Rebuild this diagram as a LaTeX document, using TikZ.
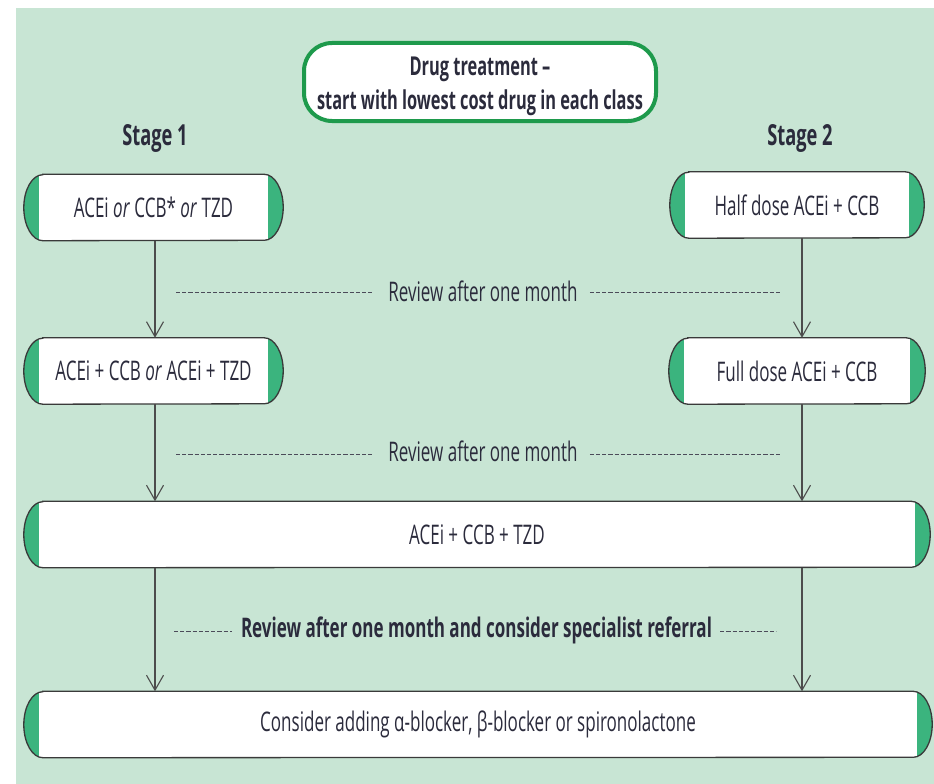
\documentclass[tikz,border=0pt]{standalone}
\usepackage{fontspec}
\setmainfont[FakeStretch=0.63]{Open Sans}
\usetikzlibrary{arrows.meta}
\definecolor{bg}{HTML}{C8E5D4}
\definecolor{strip}{HTML}{3BB47E}
\definecolor{topgreen}{HTML}{1E9A4C}
\definecolor{ink}{HTML}{2B2B3C}
\definecolor{edge}{HTML}{3A3A3A}
\pgfdeclarelayer{bottom}
\pgfdeclarelayer{back}
\pgfsetlayers{bottom,back,main}
\newcommand\pillshape[1]{%
  \begin{pgfonlayer}{back}
  \begin{scope}
    \path[clip] ([xshift=19pt]#1.north west) -- ([xshift=-19pt]#1.north east)
      arc[start angle=90, end angle=-90, x radius=19pt, y radius=33pt]
      -- ([xshift=19pt]#1.south west)
      arc[start angle=270, end angle=90, x radius=19pt, y radius=33pt] -- cycle;
    \fill[white] (#1.north west) rectangle (#1.south east);
    \fill[strip] (#1.north west) rectangle ([xshift=15pt]#1.south west);
    \fill[strip] ([xshift=-15pt]#1.north east) rectangle (#1.south east);
  \end{scope}
  \draw[edge, line width=1.3pt] ([xshift=19pt]#1.north west) -- ([xshift=-19pt]#1.north east)
      arc[start angle=90, end angle=-90, x radius=19pt, y radius=33pt]
      -- ([xshift=19pt]#1.south west)
      arc[start angle=270, end angle=90, x radius=19pt, y radius=33pt] -- cycle;
  \end{pgfonlayer}}
\begin{document}
\begin{tikzpicture}[x=1pt,y=-1pt,
  txt/.style={font=\fontsize{27}{32}\selectfont, text=ink},
  drugbox/.style={rectangle, minimum height=66pt, inner sep=0pt, txt},
  flow/.style={draw=black!70, line width=1.2pt, -{Straight Barb[length=15pt,width=17pt,line width=1.1pt]}},
  dashline/.style={draw=ink!85, line width=1pt, dash pattern=on 4.2pt off 2pt},
  review/.style={txt, inner sep=0pt},
  stage/.style={font=\fontsize{29}{34}\selectfont\bfseries, text=ink}]
\useasboundingbox (0,0) rectangle (934,784);
\begin{pgfonlayer}{bottom}
\fill[bg] (16,8) rectangle (934,784);
\end{pgfonlayer}

\node[draw=topgreen, line width=4pt, fill=white, rounded corners=28pt,
  minimum width=352pt, minimum height=78pt, align=center,
  font=\fontsize{26}{34}\selectfont\bfseries, text=ink] (top) at (480,82)
  {\rule{0pt}{28pt}Drug treatment --\\start with lowest cost drug in each class};

\node[stage] (s1) at (155,138) {Stage 1};
\node[stage] (s2) at (800,138) {Stage 2};

\node[drugbox, minimum width=259pt] (b1) at (153.5,207.5) {ACEi \textit{or} CCB* \textit{or} TZD};
\node[drugbox, minimum width=254pt] (b2) at (797,205) {Half dose ACEi + CCB};
\node[drugbox, minimum width=259pt] (b3) at (153.5,371) {ACEi + CCB \textit{or} ACEi + TZD};
\node[drugbox, minimum width=256pt] (b4) at (797,371) {Full dose ACEi + CCB};
\node[drugbox, minimum width=906pt] (b5) at (477,534.5) {ACEi + CCB + TZD};
\node[drugbox, minimum width=908pt] (b6) at (478,724.5) {Consider adding α-blocker, β-blocker or spironolactone};
\pillshape{b1}\pillshape{b2}\pillshape{b3}\pillshape{b4}\pillshape{b5}\pillshape{b6}

\node[review] (r1) at (483,291) {Review after one month};
\node[review] (r2) at (483,451) {Review after one month};
\node[review, font=\fontsize{27}{32}\selectfont\bfseries] (r3) at (476.5,630) {Review after one month and consider specialist referral};

\coordinate (r1l) at (176,292); \coordinate (r1r) at (780,292);
\coordinate (r2l) at (176,454); \coordinate (r2r) at (780,454);
\coordinate (r3l) at (174,631); \coordinate (r3r) at (776,631);
\draw[dashline] (r1l) -- ([xshift=-15pt]r1.west |- r1l);
\draw[dashline] ([xshift=12pt]r1.east |- r1r) -- (r1r);
\draw[dashline] (r2l) -- ([xshift=-15pt]r2.west |- r2l);
\draw[dashline] ([xshift=12pt]r2.east |- r2r) -- (r2r);
\draw[dashline] (r3l) -- ([xshift=-9pt]r3.west |- r3l);
\draw[dashline] ([xshift=8pt]r3.east |- r3r) -- (r3r);

\coordinate (cl) at (155,0); \coordinate (cr) at (802,0);
\draw[flow] (b1.south -| cl) -- (b3.north -| cl);
\draw[flow] (b2.south -| cr) -- (b4.north -| cr);
\draw[flow] (b3.south -| cl) -- (b5.north -| cl);
\draw[flow] (b4.south -| cr) -- (b5.north -| cr);
\draw[flow] (b5.south -| cl) -- (b6.north -| cl);
\draw[flow] (b5.south -| cr) -- (b6.north -| cr);
\end{tikzpicture}
\end{document}
